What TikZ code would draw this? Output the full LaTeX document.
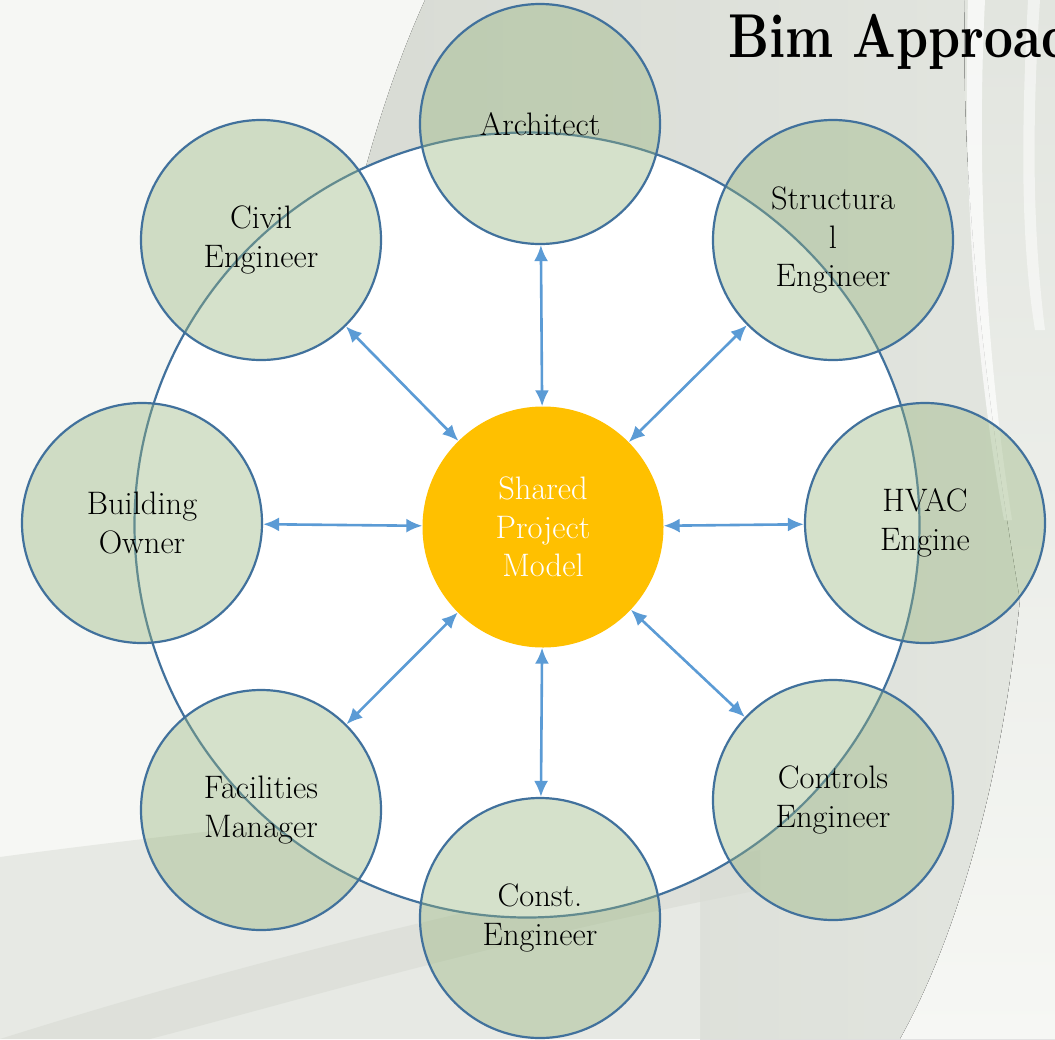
\documentclass[tikz,border=0pt]{standalone}
\usepackage{fontspec}
\usetikzlibrary{arrows.meta}

\newfontfamily\titlefont{lmroman10-bold}[Extension=.otf]

\definecolor{ringblue}{HTML}{41719C}
\definecolor{linkblue}{HTML}{5B9BD5}
\definecolor{sagefill}{RGB}{150,180,125}
\definecolor{hubgold}{HTML}{FFC000}
\definecolor{paper}{HTML}{F6F7F4}
\definecolor{swoosh}{HTML}{D8DBD4}
\definecolor{swooshmid}{HTML}{E2E5DF}
\definecolor{swooshlow}{HTML}{E7E9E4}

\begin{document}
\begin{tikzpicture}[
    x=1pt, y=-1pt,
    every node/.style={font=\fontsize{32.5}{38.5}\selectfont},
    party/.style={circle, draw=ringblue, line width=2.2pt, fill=sagefill, fill opacity=0.4, text opacity=1, minimum size=240pt, inner sep=0pt, align=center},
    hub/.style={circle, fill=hubgold, minimum size=241pt, inner sep=0pt, align=center, text=white},
    link/.style={{Latex[length=16pt,width=14pt]}-{Latex[length=16pt,width=14pt]}, line width=2.6pt, draw=linkblue}
]
\useasboundingbox (0,0) rectangle (1055,1039);

% slide background with soft grey swooshes
\fill[paper] (0,0) rectangle (1055,1039);
\fill[left color=swoosh, right color=swooshmid] (425,0) .. controls (375,110) and (345,240) .. (330,330) -- (700,780) -- (700,1039) -- (900,1039) .. controls (950,950) and (1000,800) .. (1020,600) .. controls (990,420) and (960,200) .. (965,0) -- cycle;
\fill[top color=swooshmid, bottom color=paper] (965,0) .. controls (960,200) and (990,420) .. (1020,600) .. controls (1000,800) and (950,950) .. (900,1039) -- (1055,1039) -- (1055,0) -- cycle;
\fill[white, opacity=0.7] (985,0) .. controls (975,200) and (990,380) .. (1012,520) -- (1004,520) .. controls (978,380) and (962,200) .. (968,0) -- cycle;
\fill[white, opacity=0.5] (1040,0) .. controls (1030,150) and (1035,250) .. (1045,330) -- (1035,330) .. controls (1022,250) and (1020,150) .. (1028,0) -- cycle;
\fill[swooshlow] (0,857) .. controls (200,830) and (500,800) .. (700,780) -- (700,1039) -- (0,1039) -- cycle;
\fill[swoosh, opacity=0.6] (0,1039) .. controls (250,960) and (500,900) .. (760,850) -- (760,890) .. controls (500,940) and (300,1000) .. (150,1039) -- cycle;

% outer ring
\node[circle, draw=ringblue, fill=white, line width=2.2pt, minimum size=785pt, inner sep=0pt] (ring) at (527,525) {};

% shared model in the middle
\node[hub] (model) at (543,527) {Shared\\Project\\Model};

% project parties
\node[party] (architect) at (540,124) {Architect};
\node[party] (civil) at (261,240) {Civil\\Engineer};
\node[party] (structural) at (833,240) {Structura\\l\\Engineer};
\node[party] (owner) at (142,523) {Building\\Owner};
\node[party] (hvac) at (925,523) {HVAC\\Engine};
\node[party] (facilities) at (261,810) {Facilities\\Manager};
\node[party] (controls) at (833,800) {Controls\\Engineer};
\node[party] (const) at (540,918) {Const.\\Engineer};

% two-way links to the model
\foreach \p in {architect,civil,structural,owner,hvac,facilities,controls,const}
  \draw[link] (model) -- (\p);

% title, cut at the right edge
\begin{scope}
  \clip (0,0) rectangle (1055,1039);
  \node[anchor=base west, inner sep=0pt, xscale=0.81, transform shape, font=\titlefont\fontsize{62}{66}\selectfont] (title) at (728,57) {Bim Approach};
\end{scope}
\end{tikzpicture}
\end{document}
